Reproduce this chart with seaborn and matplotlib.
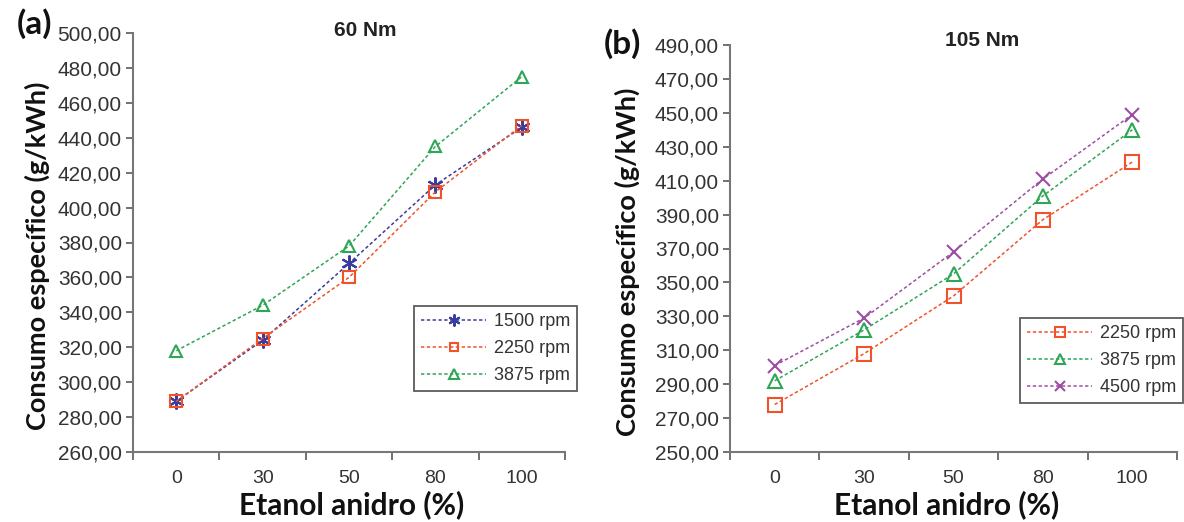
import matplotlib
matplotlib.use("Agg")
import matplotlib.pyplot as plt
import seaborn as sns
import pandas as pd
from matplotlib.ticker import FixedLocator, FixedFormatter

# ---------------- data ----------------
etanol = ["0", "30", "50", "80", "100"]

a_series = ["1500 rpm", "2250 rpm", "3875 rpm"]
a_1500 = [289, 324, 368, 413, 446]
a_2250 = [289, 325, 360, 409, 447]
a_3875 = [318, 344, 378, 435, 475]

b_series = ["2250 rpm", "3875 rpm", "4500 rpm"]
b_2250 = [278, 308, 342, 387, 421]
b_3875 = [292, 322, 355, 401, 440]
b_4500 = [301, 329, 368, 411, 449]

a_yticks = list(range(260, 501, 20))
b_yticks = list(range(250, 491, 20))

a_title = "60 Nm"
b_title = "105 Nm"
ylabel = "Consumo específico (g/kWh)"
xlabel = "Etanol anidro (%)"

# ---------------- style ----------------
colors = {"1500 rpm": "#3A3C9E", "2250 rpm": "#F0532B",
          "3875 rpm": "#2EA655", "4500 rpm": "#9C4FA2"}
markers = {"1500 rpm": (6, 2, 0), "2250 rpm": "s",
           "3875 rpm": "^", "4500 rpm": "x"}
msize_scale = {"1500 rpm": 1.35, "2250 rpm": 1.0, "3875 rpm": 1.05, "4500 rpm": 1.0}

sns.set_theme(style="ticks")
plt.rcParams["font.family"] = ["Liberation Sans", "DejaVu Sans"]

fig = plt.figure(figsize=(11.84, 5.22), dpi=100)
W, H = 1184, 522

def make_ax(l, r, t, b):
    return fig.add_axes([l / W, 1 - b / H, (r - l) / W, (b - t) / H])

axA = make_ax(133, 565, 33, 452)
axB = make_ax(730, 1177, 45, 452)

LABEL_FONT = ["Lato", "DejaVu Sans"]

def draw(ax, names, values, yticks, title, title_xy, msize, legend_anchor,
         xlab_xy, ylab_xy):
    df = pd.DataFrame({
        "pos": [i for _ in names for i in range(len(etanol))],
        "val": [v for vals in values for v in vals],
        "serie": [n for n in names for _ in etanol],
    })
    for n in names:
        sub = df[df["serie"] == n]
        sns.lineplot(data=sub, x="pos", y="val", ax=ax, color=colors[n],
                     marker=markers[n], markersize=msize * msize_scale[n],
                     markerfacecolor="none", markeredgecolor=colors[n],
                     markeredgewidth=1.5, linestyle=(0, (2.2, 1.6)),
                     linewidth=1.1, label=n)
    ax.set_xlim(-0.5, len(etanol) - 0.5)
    ax.set_ylim(yticks[0], yticks[-1])
    ax.yaxis.set_major_locator(FixedLocator(yticks))
    ax.yaxis.set_major_formatter(
        FixedFormatter([f"{v:.2f}".replace(".", ",") for v in yticks]))
    ax.xaxis.set_major_locator(FixedLocator(range(len(etanol))))
    ax.xaxis.set_major_formatter(FixedFormatter(etanol))
    ax.xaxis.set_minor_locator(FixedLocator([i + 0.5 for i in range(-1, len(etanol))]))
    ax.tick_params(axis="x", which="major", length=0, pad=13,
                   labelsize=14, labelcolor="#333333")
    ax.tick_params(axis="x", which="minor", length=6, width=1.3, color="#666666")
    ax.tick_params(axis="y", length=5, width=1.3, color="#666666",
                   labelsize=15, labelcolor="#333333", pad=3)
    sns.despine(ax=ax)
    for s in ("left", "bottom"):
        ax.spines[s].set_color("#777777")
        ax.spines[s].set_linewidth(1.5)
    ax.set_xlabel("")
    ax.set_ylabel("")
    fig.text(xlab_xy[0] / W, 1 - xlab_xy[1] / H, xlabel, ha="center",
             va="center", fontsize=21.5, fontweight="bold", family=LABEL_FONT,
             color="#111111")
    fig.text(ylab_xy[0] / W, 1 - ylab_xy[1] / H, ylabel, ha="center",
             va="center", rotation=90, fontsize=19.5, fontweight="bold",
             family=LABEL_FONT, color="#111111")
    fig.text(title_xy[0] / W, 1 - title_xy[1] / H, title, ha="center",
             va="center", fontsize=15, fontweight="bold", color="#222222")
    leg = ax.legend(loc="upper right", bbox_to_anchor=legend_anchor,
                    bbox_transform=fig.transFigure, borderaxespad=0,
                    fontsize=13, frameon=True, fancybox=False,
                    handlelength=3.6, handletextpad=0.4, labelspacing=0.55,
                    markerscale=0.75, borderpad=0.4)
    leg.get_frame().set_edgecolor("#333333")
    leg.get_frame().set_linewidth(1.3)
    for t in leg.get_texts():
        t.set_color("#333333")

draw(axA, a_series, [a_1500, a_2250, a_3875], a_yticks, a_title, (365, 30), 8.5,
     (577 / W, 1 - 306 / H), (352, 505), (37, 256))
draw(axB, b_series, [b_2250, b_3875, b_4500], b_yticks, b_title, (982, 40), 10,
     (1183 / W, 1 - 318 / H), (947, 505), (627, 262))

fig.text(34 / W, 1 - 24 / H, "(a)", ha="center", va="center", fontsize=24,
         family=LABEL_FONT, fontweight="bold", color="#111111")
fig.text(622 / W, 1 - 44 / H, "(b)", ha="center", va="center", fontsize=24,
         family=LABEL_FONT, fontweight="bold", color="#111111")

fig.savefig("out.png", dpi=100)
